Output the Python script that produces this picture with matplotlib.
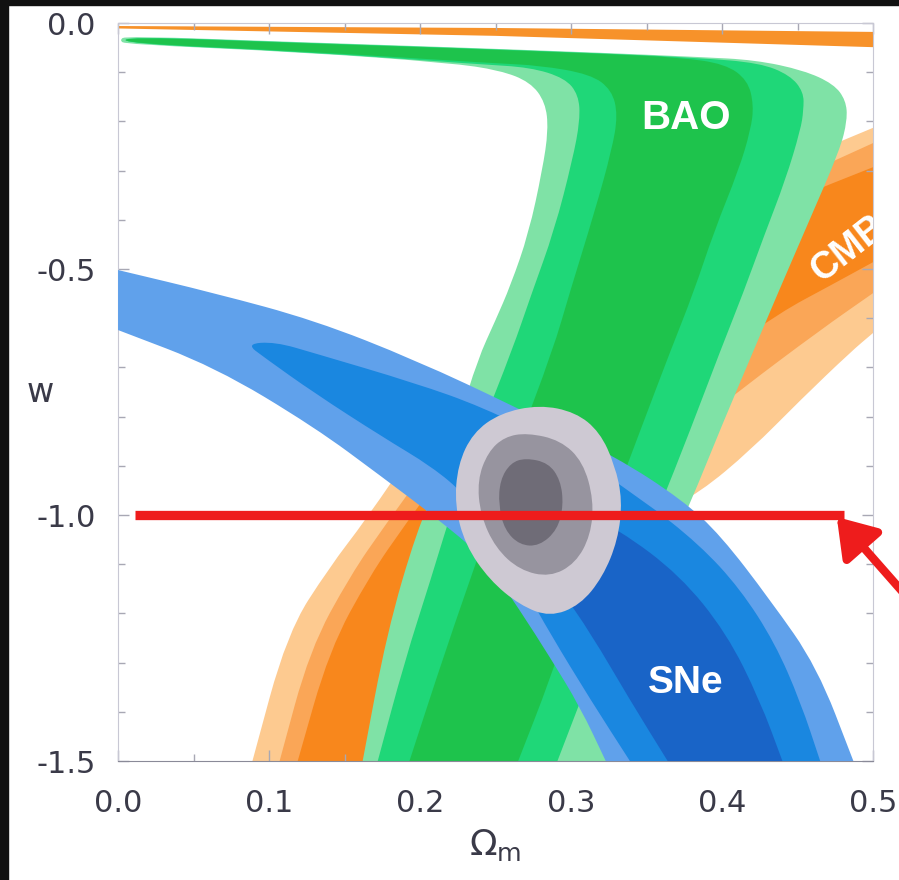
import matplotlib
matplotlib.use('Agg')
import matplotlib.pyplot as plt
from matplotlib.patches import Rectangle, PathPatch
from matplotlib.path import Path

plt.rcParams['axes.unicode_minus'] = False
plt.rcParams['font.family'] = ['DejaVu Sans']

# ---- contour outlines (Omega_m, w), outer -> inner ----
# CMB band (lower-left arc up to the right edge)
cmb_outer_om = [0.089, 0.112, 0.140, 0.164, 0.200, 0.266, 0.352, 0.425, 0.500,
                0.500, 0.485, 0.452, 0.419, 0.385, 0.359, 0.319, 0.273, 0.236, 0.207]
cmb_outer_w = [-1.500, -1.240, -1.106, -1.010, -0.848, -0.644, -0.441, -0.309, -0.213,
               -0.630, -0.669, -0.766, -0.868, -0.955, -0.994, -1.051, -1.152, -1.295, -1.500]
cmb_mid_om = [0.107, 0.127, 0.154, 0.177, 0.213, 0.279, 0.359, 0.432, 0.500,
              0.500, 0.465, 0.412, 0.379, 0.346, 0.306, 0.260, 0.226, 0.197]
cmb_mid_w = [-1.500, -1.274, -1.122, -1.020, -0.868, -0.665, -0.472, -0.339, -0.244,
             -0.549, -0.624, -0.746, -0.827, -0.909, -1.010, -1.132, -1.274, -1.500]
cmb_in_om = [0.119, 0.140, 0.167, 0.190, 0.226, 0.293, 0.372, 0.445, 0.500,
             0.500, 0.472, 0.438, 0.399, 0.359, 0.313, 0.266, 0.233, 0.213, 0.183]
cmb_in_w = [-1.500, -1.274, -1.122, -1.020, -0.868, -0.675, -0.492, -0.360, -0.293,
            -0.486, -0.533, -0.589, -0.675, -0.766, -0.888, -1.030, -1.213, -1.274, -1.500]
# second CMB branch hugging w = 0
cmb_top_om = [0.0, 0.25, 0.5, 0.5, 0.25, 0.0]
cmb_top_w = [-0.006, -0.010, -0.018, -0.049, -0.026, -0.011]

# BAO band
bao_outer_om = [0.001, 0.005, 0.121, 0.220, 0.325, 0.385, 0.422, 0.454, 0.474, 0.482, 0.483,
                0.478, 0.458, 0.437, 0.421, 0.400, 0.379, 0.359, 0.346, 0.336, 0.329,
                0.162, 0.178, 0.198, 0.213, 0.226, 0.238, 0.250, 0.260, 0.272, 0.281,
                0.285, 0.283, 0.273, 0.253, 0.220, 0.121, 0.005]
bao_outer_w = [-0.035, -0.026, -0.039, -0.049, -0.061, -0.069, -0.075, -0.096, -0.124, -0.157, -0.197,
               -0.258, -0.400, -0.549, -0.665, -0.817, -0.976, -1.112, -1.213, -1.356, -1.500,
               -1.500, -1.240, -1.030, -0.929, -0.807, -0.685, -0.604, -0.533, -0.427, -0.299,
               -0.217, -0.161, -0.120, -0.096, -0.081, -0.059, -0.043]
bao_mid_om = [0.005, 0.121, 0.220, 0.325, 0.385, 0.425, 0.445, 0.454, 0.454, 0.452,
              0.442, 0.428, 0.414, 0.399, 0.379, 0.358, 0.332, 0.309, 0.291,
              0.172, 0.190, 0.207, 0.223, 0.240, 0.261, 0.274, 0.289, 0.301,
              0.306, 0.305, 0.296, 0.273, 0.240, 0.121, 0.005]
bao_mid_w = [-0.027, -0.040, -0.050, -0.062, -0.071, -0.081, -0.106, -0.140, -0.177, -0.217,
             -0.319, -0.431, -0.549, -0.665, -0.827, -0.990, -1.173, -1.356, -1.500,
             -1.500, -1.295, -1.132, -0.970, -0.827, -0.665, -0.549, -0.421, -0.278,
             -0.197, -0.146, -0.112, -0.090, -0.084, -0.058, -0.042]
bao_in_om = [0.005, 0.121, 0.220, 0.325, 0.372, 0.402, 0.417, 0.421, 0.419, 0.411,
             0.395, 0.381, 0.366, 0.346, 0.326, 0.306, 0.286, 0.265,
             0.193, 0.217, 0.240, 0.263, 0.288, 0.299, 0.316, 0.327,
             0.331, 0.327, 0.313, 0.279, 0.250, 0.121, 0.005]
bao_in_w = [-0.028, -0.041, -0.051, -0.063, -0.070, -0.083, -0.116, -0.167, -0.217, -0.299,
            -0.421, -0.549, -0.665, -0.827, -0.990, -1.152, -1.335, -1.500,
            -1.500, -1.274, -1.071, -0.868, -0.665, -0.549, -0.380, -0.258,
            -0.187, -0.136, -0.104, -0.086, -0.082, -0.057, -0.041]

# SNe band
sne_outer_om = [0.0, 0.064, 0.130, 0.197, 0.263, 0.330, 0.374, 0.399, 0.432, 0.463, 0.487,
                0.323, 0.306, 0.286, 0.266, 0.242, 0.210, 0.175, 0.130, 0.064, 0.0]
sne_outer_w = [-0.502, -0.549, -0.604, -0.685, -0.780, -0.882, -0.970, -1.041, -1.173, -1.309, -1.500,
               -1.500, -1.390, -1.289, -1.193, -1.085, -1.004, -0.923, -0.821, -0.699, -0.624]
sne_mid_om = [0.085, 0.104, 0.130, 0.197, 0.241, 0.293, 0.348, 0.385, 0.412, 0.435, 0.452, 0.465,
              0.339, 0.313, 0.286, 0.270, 0.253, 0.230, 0.208, 0.175, 0.130, 0.097]
sne_mid_w = [-0.652, -0.648, -0.671, -0.732, -0.780, -0.858, -0.970, -1.060, -1.150, -1.260, -1.380, -1.500,
             -1.500, -1.376, -1.240, -1.152, -1.051, -0.959, -0.902, -0.841, -0.752, -0.680]
sne_in_om = [0.240, 0.293, 0.332, 0.372, 0.403, 0.425, 0.440,
             0.364, 0.339, 0.313, 0.293, 0.273, 0.253]
sne_in_w = [-0.909, -0.970, -1.030, -1.122, -1.240, -1.376, -1.500,
            -1.500, -1.376, -1.240, -1.152, -1.061, -0.970]

# combined constraint
all_outer_om = [0.279, 0.303, 0.319, 0.329, 0.334, 0.331, 0.321, 0.306,
                0.286, 0.266, 0.246, 0.230, 0.223, 0.225, 0.235, 0.253]
all_outer_w = [-0.776, -0.791, -0.831, -0.898, -0.970, -1.051, -1.126, -1.183,
               -1.207, -1.183, -1.132, -1.061, -0.980, -0.898, -0.833, -0.793]
all_mid_om = [0.271, 0.293, 0.308, 0.315, 0.313, 0.303, 0.286, 0.266, 0.250, 0.240, 0.238, 0.245, 0.256]
all_mid_w = [-0.833, -0.848, -0.892, -0.970, -1.041, -1.098, -1.126, -1.112, -1.067, -1.000, -0.929, -0.872, -0.841]
all_in_om = [0.270, 0.285, 0.293, 0.295, 0.291, 0.279, 0.266, 0.256, 0.252, 0.253, 0.260]
all_in_w = [-0.884, -0.894, -0.929, -0.980, -1.030, -1.063, -1.061, -1.030, -0.980, -0.929, -0.894]

# w = -1 marker and arrow
line_om = [0.011, 0.481]
line_w = [-1.0, -1.0]
arrow_tip = (0.476, -1.004)
arrow_tail = (0.535, -1.21)

xticks = [0.0, 0.1, 0.2, 0.3, 0.4, 0.5]
xtick_labels = ['0.0', '0.1', '0.2', '0.3', '0.4', '0.5']
yticks = [0.0, -0.5, -1.0, -1.5]
ytick_labels = ['0.0', '-0.5', '-1.0', '-1.5']

orange = ['#fdca90', '#faa657', '#f8871c']
green = ['#7fe2a6', '#1fd778', '#1ec34c']
blue = ['#60a1eb', '#1a87e0', '#1964c7']
gray = ['#cec9d3', '#97949f', '#6f6c77']
red = '#ee1c1c'
txt = '#3a3a48'

fig = plt.figure(figsize=(8.99, 8.80), dpi=100)
ax = fig.add_axes([0.1313, 0.1352, 0.8398, 0.8386])


def smooth_fill(om, w, color, z):
    # closed outline drawn with quadratic curves through edge midpoints;
    # points sitting on the plot frame stay as sharp corners
    pts = list(zip(om, w))
    n = len(pts)
    verts, codes = [], []
    for i in range(n):
        p, prev, nxt = pts[i], pts[i - 1], pts[(i + 1) % n]
        if p[1] <= -1.5 or p[0] <= 0 or p[0] >= 0.5:
            verts.append(p)
            codes.append(Path.LINETO)
        else:
            verts += [((prev[0] + p[0]) / 2, (prev[1] + p[1]) / 2), p,
                      ((p[0] + nxt[0]) / 2, (p[1] + nxt[1]) / 2)]
            codes += [Path.LINETO, Path.CURVE3, Path.CURVE3]
    codes[0] = Path.MOVETO
    verts.append(verts[0])
    codes.append(Path.CLOSEPOLY)
    ax.add_patch(PathPatch(Path(verts, codes), facecolor=color, lw=0, zorder=z))


def layer(oms, ws, colors, z):
    for om, w, c in zip(oms, ws, colors):
        smooth_fill(om, w, c, z)


layer([cmb_outer_om, cmb_mid_om, cmb_in_om], [cmb_outer_w, cmb_mid_w, cmb_in_w], orange, 1)
ax.fill(cmb_top_om, cmb_top_w, color='#f7922a', lw=0, zorder=1)
layer([bao_outer_om, bao_mid_om, bao_in_om], [bao_outer_w, bao_mid_w, bao_in_w], green, 2)
layer([sne_outer_om, sne_mid_om, sne_in_om], [sne_outer_w, sne_mid_w, sne_in_w], blue, 3)
layer([all_outer_om, all_mid_om, all_in_om], [all_outer_w, all_mid_w, all_in_w], gray, 4)

lab = dict(color='white', fontweight='bold', family='Liberation Sans', ha='center', va='center', zorder=6)
ax.text(0.376, -0.193, 'BAO', fontsize=29, **lab)
ax.text(0.376, -1.341, 'SNe', fontsize=28, **lab)
ax.text(0.484, -0.458, 'CMB', fontsize=27, rotation=38, clip_on=True, **lab)

ax.plot(line_om, line_w, color=red, lw=6.7, solid_capstyle='butt', zorder=8)
ax.annotate('', xy=arrow_tip, xytext=arrow_tail, annotation_clip=False, zorder=8,
            arrowprops=dict(arrowstyle='-|>,head_length=0.9,head_width=0.6',
                            mutation_scale=25, lw=6, color=red, shrinkA=0, shrinkB=0))

ax.set_xlim(0, 0.5)
ax.set_ylim(-1.5, 0.0)
ax.set_xticks(xticks, xtick_labels)
ax.set_yticks(yticks, ytick_labels)
ax.set_yticks([-0.1 * i for i in range(1, 15)], minor=True)
ax.set_xticks([0.05 + 0.1 * i for i in range(5)], minor=True)
ax.tick_params(which='both', direction='in', color='#a8a8b4', width=1,
               top=True, right=True, labelsize=22, labelcolor=txt)
ax.tick_params(which='major', length=8)
ax.tick_params(which='minor', length=5)
ax.tick_params(axis='y', pad=16)
ax.tick_params(axis='x', pad=20)

for s in ['top', 'right', 'left']:
    ax.spines[s].set_color('#c8c8d4')
ax.spines['bottom'].set_color('#8a8a98')

ax.set_ylabel('w', fontsize=24, color=txt, rotation=0, ha='center', va='center')
ax.yaxis.set_label_coords(-0.103, 0.5)
ax.set_xlabel(r'$\Omega_{\rm m}$', fontsize=26, color=txt)
ax.xaxis.set_label_coords(0.5, -0.09)

# dark screen frame along the left and top edges
fig.patches.append(Rectangle((0, 0), 8 / 899, 1, transform=fig.transFigure, color='#111111', zorder=20))
fig.patches.append(Rectangle((0, 1 - 5 / 880), 1, 5 / 880, transform=fig.transFigure, color='#111111', zorder=20))

fig.savefig('out.png', dpi=100, facecolor='white')
